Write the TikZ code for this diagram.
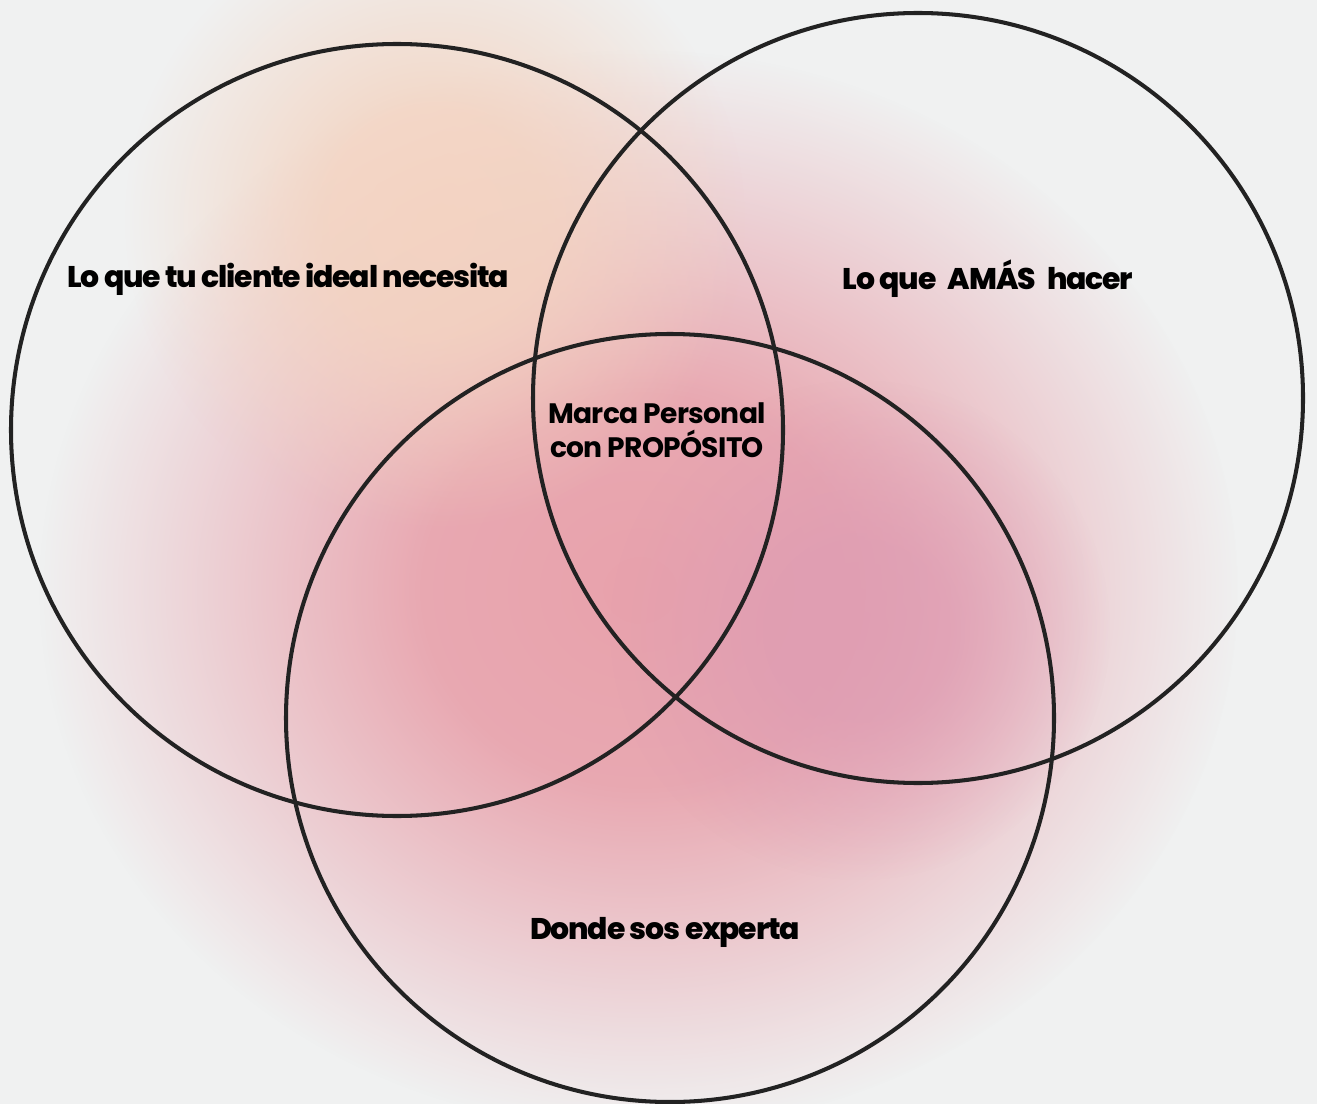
\documentclass[tikz,border=0pt]{standalone}
\usepackage{fontspec}
\setmainfont{Poppins}
\newfontfamily\tight[LetterSpace=-4]{Poppins ExtraBold}
\newfontfamily\snug[LetterSpace=-2.5]{Poppins Bold}
\usetikzlibrary{fadings}
\definecolor{bggray}{HTML}{F0F1F1}
\definecolor{peach}{HTML}{F4D3C0}
\definecolor{rosa}{HTML}{E8A2AC}
\definecolor{malva}{HTML}{DE9CB3}
\definecolor{ink}{HTML}{222222}
\pgfdeclareradialshading{blobshade}{\pgfpointorigin}{color(0bp)=(transparent!0); color(9bp)=(transparent!8); color(25bp)=(transparent!100); color(50bp)=(transparent!100)}
\pgfdeclarefading{blob}{\pgfuseshading{blobshade}}
\tikzset{
  ring/.style={draw=ink, line width=2.3pt},
  label/.style={font=\tight\fontsize{17}{19}\selectfont, text=black, align=center, inner sep=0pt},
}
\begin{document}
\begin{tikzpicture}[x=0.02cm, y=-0.02cm]
	\fill[bggray] (0,0) rectangle (1317,1104);
	\useasboundingbox (0,0) rectangle (1317,1104);
	% soft colour blobs
	\fill[rosa, path fading=blob] (640,590) ellipse (600 and 540);
	\fill[malva, path fading=blob, fill opacity=0.8] (860,630) circle (250);
	\fill[peach, path fading=blob, fill opacity=0.9] (435,220) circle (310);
	% the three circles
	\coordinate (cl) at (397,430);
	\coordinate (cr) at (918,398);
	\coordinate (cb) at (670,718);
	\draw[ring] (cl) circle (386);
	\draw[ring] (cr) circle (385);
	\draw[ring] (cb) circle (384);
	% labels
	\node[label] (necesita) at (288,279) {Lo que tu cliente ideal necesita};
	\node[label] (amas) at (988,279) {Lo que\hspace{0.38em}AMÁS\hspace{0.38em}hacer};
	\node[label, font=\snug\fontsize{16}{19.5}\selectfont] (marca) at (657,430) {Marca Personal\\con PROPÓSITO};
	\node[label] (experta) at (665,932) {Donde sos experta};
\end{tikzpicture}
\end{document}
